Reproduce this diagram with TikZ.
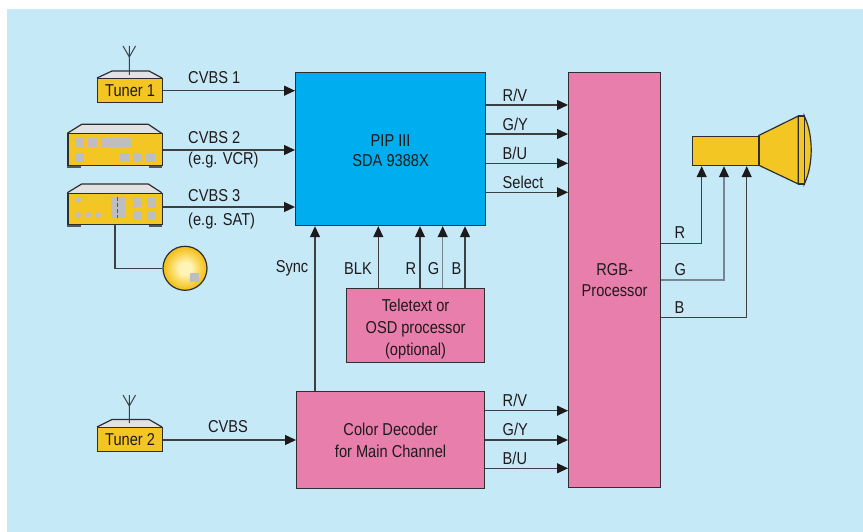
\documentclass[tikz,border=0pt]{standalone}
\usepackage{fontspec}
\setmainfont[FakeStretch=0.85]{Liberation Sans}
\usetikzlibrary{arrows.meta,calc}
\definecolor{bg}{HTML}{C6E9F8}
\definecolor{pipblue}{HTML}{00AEEF}
\definecolor{pinkbox}{HTML}{E87EAC}
\definecolor{yel}{HTML}{F3C623}
\definecolor{topgrey}{HTML}{E2E2E3}
\definecolor{keygrey}{HTML}{BDBEC2}
\definecolor{footgrey}{HTML}{55585B}
\definecolor{edge}{HTML}{2E2E30}
\definecolor{linec}{HTML}{3C4043}
\definecolor{glinec}{HTML}{76858F}
\definecolor{txt}{HTML}{1E1A1B}
\definecolor{dishin}{HTML}{FFF4B8}
\definecolor{dishmid}{HTML}{FAD85A}
\definecolor{dishout}{HTML}{F2C01E}
\pgfdeclareradialshading{dishshade}{\pgfpoint{0bp}{0bp}}{color(0bp)=(dishin); color(7bp)=(dishin); color(16bp)=(dishmid); color(24bp)=(dishout); color(50bp)=(dishout)}
\begin{document}
\begin{tikzpicture}[x=1pt,y=-1pt,
  font=\fontsize{17.2}{22}\selectfont,
  box/.style={draw=edge, line width=1.2pt, inner sep=0pt, anchor=north west, text=txt, align=center},
  conn/.style={draw=linec, line width=1.25pt},
  gconn/.style={draw=glinec, line width=1.25pt},
  arr/.style={-{Triangle[length=11pt,width=10pt,fill=txt,color=txt]}},
  lbl/.style={inner sep=0pt, text=txt},
  outl/.style={draw=edge, line width=1.2pt},
  key/.style={fill=keygrey},
  foot/.style={fill=footgrey}]
\useasboundingbox (0,0) rectangle (863,532);
\fill[bg] (7,9) rectangle (863,532);

% main blocks
\node[box, fill=pipblue, minimum width=190pt, minimum height=153pt] (pip) at (295,72) {};
\node[lbl, align=center] (piptext) at ($(pip.center)+(0,1.5)$) {PIP III\\[-2pt]SDA 9388X};
\node[box, fill=pinkbox, minimum width=92pt, minimum height=415pt] (rgb) at (568,72) {RGB-\\[-1pt]Processor};
\node[box, fill=pinkbox, minimum width=138pt, minimum height=74pt] (ttx) at (346,288) {};
\node[lbl, align=center] (ttxtext) at ($(ttx.center)+(0,3)$) {Teletext or\\OSD processor\\(optional)};
\node[box, fill=pinkbox, minimum width=188pt, minimum height=97pt] (dec) at (296,391) {Color Decoder\\for Main Channel};

% Tuner 1
\fill[topgrey] (97,78) -- (112,71) -- (149,71) -- (162,78) -- cycle;
\draw[outl, line join=round] (97,78) -- (112,71) -- (149,71) -- (162,78);
\node[box, fill=yel, minimum width=65pt, minimum height=24pt] (tun1) at (97,78) {Tuner 1};
\draw[conn, line width=1pt] (129.3,75) -- (129.3,46) (123,46) -- (129.3,57) -- (135.6,46);

% Tuner 2
\fill[topgrey] (97,427) -- (112,419.5) -- (149,419.5) -- (162,427) -- cycle;
\draw[outl, line join=round] (97,427) -- (112,419.5) -- (149,419.5) -- (162,427);
\node[box, fill=yel, minimum width=65pt, minimum height=24pt] (tun2) at (97,427) {Tuner 2};
\draw[conn, line width=1pt] (129.3,423) -- (129.3,395) (123,395) -- (129.3,406) -- (135.6,395);

% VCR
\fill[topgrey] (67.3,133.3) -- (81.7,124.3) -- (148.3,124.3) -- (161.7,133.3) -- cycle;
\draw[outl, line join=round] (67.3,133.3) -- (81.7,124.3) -- (148.3,124.3) -- (161.7,133.3);
\fill[foot] (67.3,164) rectangle (80.7,168.5);
\fill[foot] (149,164) rectangle (161.7,168.5);
\node[box, fill=yel, minimum width=94.4pt, minimum height=31.7pt] (vcr) at (67.3,133.3) {};
\fill[key] (75,138.3) rectangle (84,146.7);
\fill[key] (87.7,138.3) rectangle (97.3,146.7);
\fill[key] (101,138.3) rectangle (131,146.7);
\fill[key] (75,153.3) rectangle (84,161.7);
\fill[key] (120,153.3) rectangle (129,161.7);
\fill[key] (133.3,153.3) rectangle (142,161.7);
\fill[key] (146,153.3) rectangle (155,161.7);

% SAT receiver
\fill[topgrey] (67.3,192.7) -- (81.7,184) -- (148.3,184) -- (161.7,192.7) -- cycle;
\draw[outl, line join=round] (67.3,192.7) -- (81.7,184) -- (148.3,184) -- (161.7,192.7);
\fill[foot] (67.3,223) rectangle (80.7,227.5);
\fill[foot] (149,223) rectangle (161.7,227.5);
\node[box, fill=yel, minimum width=94.4pt, minimum height=31.3pt] (sat) at (67.3,192.7) {};
\fill[key] (78.3,200) circle (2.8);
\fill[key] (78.3,215) circle (2.8);
\fill[key] (88.3,215) circle (2.8);
\fill[key] (98.3,215) circle (2.8);
\fill[key] (110.7,197.3) rectangle (125.7,217.7);
\draw[footgrey, line width=1pt, dash pattern=on 4pt off 2pt] (117.5,197.3) -- (117.5,217.7);
\fill[key] (133.3,197.7) rectangle (141.7,206.7);
\fill[key] (147.3,197.7) rectangle (156,206.7);
\fill[key] (133.3,211) rectangle (141.7,220);
\fill[key] (147.3,211) rectangle (156,220);

% Satellite dish
\node[circle, draw=edge, line width=1.2pt, minimum size=44pt, inner sep=0pt, shading=dishshade] (dish) at (185,268.3) {};
\fill[key] (190,273.3) rectangle (199.3,282.3);
\coordinate (satx) at (115,0);
\draw[conn] (sat.south -| satx) |- (dish.west);

% CRT
\fill[yel] (758.3,135.7) -- (798.3,116) -- (798.3,184) -- (758.3,165) -- cycle;
\draw[outl, line join=round] (758.3,135.7) -- (798.3,116) -- (798.3,184) -- (758.3,165);
\draw[outl, fill=yel] (804.3,116) .. controls (813.5,135) and (813.5,165) .. (804.3,184) -- cycle;
\draw[outl, fill=yel] (798.3,116) rectangle (804.3,184);
\node[box, fill=yel, minimum width=66.6pt, minimum height=29.3pt] (crt) at (691.7,135.7) {};

% inputs to PIP
\coordinate (y1) at (0,90.7);
\coordinate (y2) at (0,150);
\coordinate (y3) at (0,207);
\draw[conn, arr] (tun1.east |- y1) -- (pip.west |- y1);
\draw[conn, arr] (vcr.east |- y2) -- (pip.west |- y2);
\draw[conn, arr] (sat.east |- y3) -- (pip.west |- y3);
\node[lbl, anchor=west] (l1) at (188,78) {CVBS 1};
\node[lbl, anchor=west] (l2) at (188,138) {CVBS 2};
\node[lbl, anchor=west] (l2b) at (188,160.5) {(e.g. VCR)};
\node[lbl, anchor=west] (l3) at (188,196) {CVBS 3};
\node[lbl, anchor=west] (l3b) at (188,221.5) {(e.g. SAT)};

% tuner 2 to decoder
\coordinate (y4) at (0,440);
\draw[conn, arr] (tun2.east |- y4) -- (dec.west |- y4);
\node[lbl] (l4) at (228,427) {CVBS};

% vertical arrows into PIP
\coordinate (xs) at (315,0);
\coordinate (xblk) at (378.3,0);
\coordinate (xr) at (420,0);
\coordinate (xg) at (442.7,0);
\coordinate (xb) at (465,0);
\draw[conn, arr] (dec.north -| xs) -- (pip.south -| xs);
\draw[conn, arr] (ttx.north -| xblk) -- (pip.south -| xblk);
\draw[conn, arr] (ttx.north -| xr) -- (pip.south -| xr);
\draw[gconn, arr] (ttx.north -| xg) -- (pip.south -| xg);
\draw[conn, arr] (ttx.north -| xb) -- (pip.south -| xb);
\node[lbl, anchor=east] (ls) at (308.5,268.5) {Sync};
\node[lbl] (lblk) at (358,268.5) {BLK};
\node[lbl] (lr) at (411,268.5) {R};
\node[lbl] (lg) at (433.5,268.5) {G};
\node[lbl] (lb) at (456.5,268.5) {B};

% PIP outputs
\coordinate (o1) at (0,105);
\coordinate (o2) at (0,134);
\coordinate (o3) at (0,163.3);
\coordinate (o4) at (0,192.3);
\draw[conn, arr] (pip.east |- o1) -- (rgb.west |- o1);
\draw[conn, arr] (pip.east |- o2) -- (rgb.west |- o2);
\draw[conn, arr] (pip.east |- o3) -- (rgb.west |- o3);
\draw[conn, arr] (pip.east |- o4) -- (rgb.west |- o4);
\node[lbl, anchor=west] (lo1) at (502.5,95) {R/V};
\node[lbl, anchor=west] (lo2) at (502.5,124) {G/Y};
\node[lbl, anchor=west] (lo3) at (502.5,153) {B/U};
\node[lbl, anchor=west] (lo4) at (502.5,182) {Select};

% decoder outputs
\coordinate (d1) at (0,410.7);
\coordinate (d2) at (0,440);
\coordinate (d3) at (0,468.3);
\draw[conn, arr] (dec.east |- d1) -- (rgb.west |- d1);
\draw[conn, arr] (dec.east |- d2) -- (rgb.west |- d2);
\draw[conn, arr] (dec.east |- d3) -- (rgb.west |- d3);
\node[lbl, anchor=west] (ld1) at (502.5,400.5) {R/V};
\node[lbl, anchor=west] (ld2) at (502.5,429) {G/Y};
\node[lbl, anchor=west] (ld3) at (502.5,458.5) {B/U};

% RGB outputs to CRT
\coordinate (cR) at (701.7,243.3);
\coordinate (cG) at (724,280);
\coordinate (cB) at (746.7,317.3);
\draw[conn, arr] (rgb.east |- cR) -- (cR) -- (cR |- crt.south);
\draw[gconn, arr] (rgb.east |- cG) -- (cG) -- (cG |- crt.south);
\draw[conn, arr] (rgb.east |- cB) -- (cB) -- (cB |- crt.south);
\node[lbl, anchor=west] (lcr) at (674.5,232.7) {R};
\node[lbl, anchor=west] (lcg) at (674.5,270) {G};
\node[lbl, anchor=west] (lcb) at (674.5,307.3) {B};
\end{tikzpicture}
\end{document}
